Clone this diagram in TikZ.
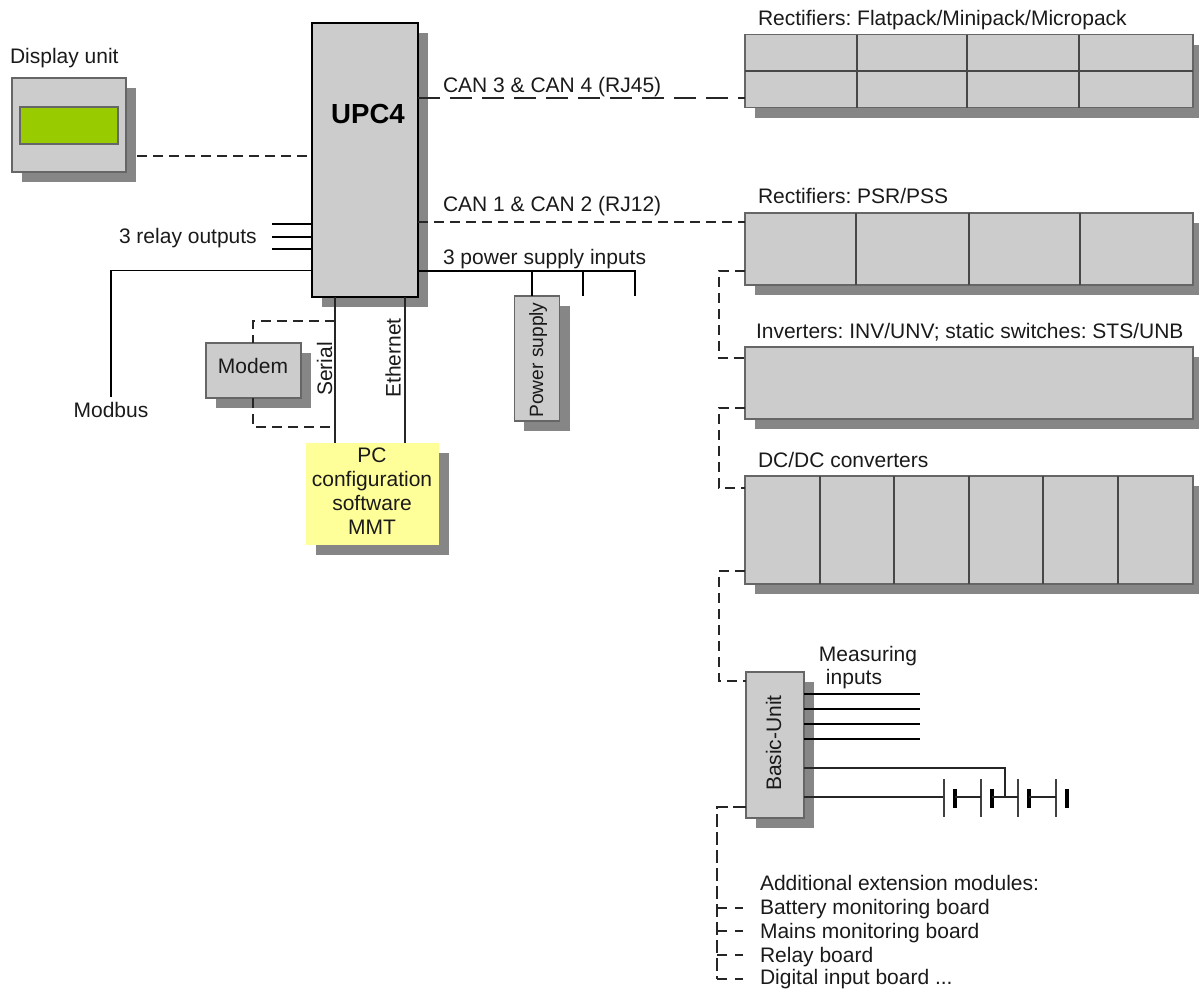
\documentclass[tikz,border=0pt]{standalone}
\usepackage{fontspec}
\setmainfont{Liberation Sans}
\usetikzlibrary{shadows}
\definecolor{boxfill}{HTML}{CCCCCC}
\definecolor{shadowgrey}{HTML}{868686}
\definecolor{boxedge}{HTML}{666666}
\definecolor{lcdgreen}{HTML}{99CC00}
\definecolor{paleyellow}{HTML}{FFFF99}
\definecolor{inkdark}{HTML}{1A1A1A}
\tikzset{
  x=1pt,y=-1pt,
  unitbox/.style={draw=boxedge,line width=1.4pt,fill=boxfill,inner sep=0pt,outer sep=0pt,
    general shadow={shadow xshift=10pt,shadow yshift=-10pt,fill=shadowgrey}},
  mainbox/.style={draw=black,line width=2.6pt,fill=boxfill,inner sep=0pt,outer sep=0pt,
    general shadow={shadow xshift=10pt,shadow yshift=-10pt,fill=shadowgrey}},
  pcbox/.style={fill=paleyellow,inner sep=0pt,outer sep=0pt,
    general shadow={shadow xshift=10pt,shadow yshift=-10pt,fill=shadowgrey}},
  lcd/.style={draw=boxedge,line width=1.2pt,fill=lcdgreen,inner sep=0pt,outer sep=0pt},
  lbl/.style={font=\fontsize{21}{24}\selectfont,text=inkdark,inner sep=0pt,outer sep=0pt,text height=18pt,text depth=4pt},
  lblw/.style={lbl,anchor=west},
  wire/.style={draw=black,line width=1.5pt},
  thinwire/.style={draw=black!85,line width=1.6pt},
  divider/.style={draw=boxedge!70!black,line width=1.3pt},
  dashshort/.style={draw=black!85,line width=1.7pt,dash pattern=on 10pt off 6pt},
  dashlong/.style={draw=black!85,line width=1.7pt,dash pattern=on 22pt off 10pt},
  dashriser/.style={draw=black!85,line width=1.6pt,dash pattern=on 13pt off 5pt},
  dashtick/.style={draw=black!85,line width=1.4pt,dash pattern=on 10pt off 8pt},
  plate/.style={draw=black!75,line width=1.3pt},
  thickplate/.style={draw=black,line width=3.2pt},
}
\begin{document}
\frenchspacing
\begin{tikzpicture}
\useasboundingbox (0,0) rectangle (1199,989);
\clip (0,0) rectangle (1199,989);

% units
\node[unitbox,minimum width=114pt,minimum height=94pt] (disp) at (69,125) {};
\node[lcd,minimum width=98pt,minimum height=37pt] (lcdpanel) at (69,125.5) {};
\node[unitbox,minimum width=448pt,minimum height=73pt] (rone) at (969,71) {};
\node[unitbox,minimum width=448pt,minimum height=72pt] (rtwo) at (969,249) {};
\node[unitbox,minimum width=448pt,minimum height=72pt] (inv) at (969,383) {};
\node[unitbox,minimum width=448pt,minimum height=108pt] (dcdc) at (969,530) {};
\node[unitbox,minimum width=58pt,minimum height=146pt] (basic) at (775,745) {};
\node[unitbox,minimum width=95pt,minimum height=55pt] (modem) at (253.5,370.5) {};
\node[unitbox,minimum width=45pt,minimum height=125pt,general shadow={shadow xshift=9pt,shadow yshift=-10pt,fill=shadowgrey}] (ps) at (537,358.5) {};
\node[pcbox,minimum width=133pt,minimum height=102pt] (pc) at (372,494) {};
\node[mainbox,minimum width=106pt,minimum height=274pt] (upc) at (365,160) {};

% dividers
\draw[divider] (rone.west) -- (rone.east);
\foreach \dx in {857,967,1079}{\draw[divider] (\dx,0 |- rone.north) -- (\dx,0 |- rone.south);}
\foreach \dx in {856,969,1080}{\draw[divider] (\dx,0 |- rtwo.north) -- (\dx,0 |- rtwo.south);}
\foreach \dx in {820,894,969,1043,1118}{\draw[divider] (\dx,0 |- dcdc.north) -- (\dx,0 |- dcdc.south);}

% free ends
\coordinate (dispport) at (137,156);
\coordinate (relayA) at (272,224);
\coordinate (relayB) at (272,237);
\coordinate (relayC) at (272,249);
\coordinate (modbusend) at (111,397);
\coordinate (supplyB) at (583,296);
\coordinate (supplyC) at (635,296);
\coordinate (measA) at (920,694);
\coordinate (measB) at (920,709);
\coordinate (measC) at (920,724);
\coordinate (measD) at (920,739);
\coordinate (cellA) at (944,797);
\coordinate (extA) at (743,908);
\coordinate (extB) at (743,931);
\coordinate (extC) at (743,955);
\coordinate (extD) at (743,979);

% bus connectors
\draw[dashshort] (dispport) -- (upc.west |- dispport);
\draw[dashlong] (upc.east |- 0,98) -- (rone.west |- 0,98);
\draw[dashshort] (upc.east |- 0,222) -- (rtwo.west |- 0,222);
\draw[wire] (upc.west |- relayA) -- (relayA);
\draw[wire] (upc.west |- relayB) -- (relayB);
\draw[wire] (upc.west |- relayC) -- (relayC);
\draw[wire] (upc.west |- 0,270.7) -- (modbusend |- 0,270.7) -- (modbusend);
\draw[wire] (upc.east |- 0,271) -- (supplyC |- 0,271) -- (supplyC);
\draw[wire] (supplyB |- 0,271) -- (supplyB);
\draw[wire] (532,271) -- (532,0 |- ps.north);
\draw[thinwire] (335,0 |- upc.south) -- (335,0 |- pc.north);
\draw[thinwire] (405,0 |- upc.south) -- (405,0 |- pc.north);
\draw[dashshort] (335,321) -- (253,321) -- (253,0 |- modem.north);
\draw[dashshort] (253,0 |- modem.south) -- (253,427) -- (335,427);

% daisy chain
\draw[dashshort] (rtwo.west |- 0,271) -- (719,271) -- (719,358) -- (inv.west |- 0,358);
\draw[dashshort] (inv.west |- 0,408) -- (719,408) -- (719,488) -- (dcdc.west |- 0,488);
\draw[dashshort] (dcdc.west |- 0,571) -- (719,571) -- (719,681) -- (basic.west |- 0,681);
\draw[dashriser] (basic.west |- 0,807) -- (717,807) -- (717,979);
\draw[dashtick] (717,908) -- (extA);
\draw[dashtick] (717,931) -- (extB);
\draw[dashtick] (717,955) -- (extC);
\draw[dashtick] (717,979) -- (extD);

% measuring inputs
\draw[wire] (basic.east |- measA) -- (measA);
\draw[wire] (basic.east |- measB) -- (measB);
\draw[wire] (basic.east |- measC) -- (measC);
\draw[wire] (basic.east |- measD) -- (measD);
\draw[thinwire] (basic.east |- 0,768) -- (1005,768) -- (1005,797);
\draw[thinwire] (basic.east |- cellA) -- (cellA);

% battery
\foreach \px in {944,981,1018,1056}{\draw[plate] (\px,779) -- (\px,817);}
\foreach \px in {955,992,1029,1067}{\draw[thickplate] (\px,789) -- (\px,808);}
\draw[thinwire] (955,797) -- (981,797);
\draw[thinwire] (992,797) -- (1018,797);
\draw[thinwire] (1029,797) -- (1056,797);

% labels
\node[lblw] (tdisp) at (10,56) {Display unit};
\node[font=\fontsize{27.6}{30}\bfseries\selectfont,text=black,inner sep=0pt] (tupc) at (368,114) {UPC4};
\node[lblw] (tcanb) at (443,85.5) {CAN 3 \& CAN 4 (RJ45)};
\node[lblw] (tcana) at (443,204.5) {CAN 1 \& CAN 2 (RJ12)};
\node[lblw] (trelay) at (119,236.5) {3 relay outputs};
\node[lblw] (tsupply) at (443,257) {3 power supply inputs};
\node[lbl] (tmodbus) at (111,410) {Modbus};
\node[lbl] (tmodem) at (253,366) {Modem};
\node[lbl,rotate=90] (tserial) at (325,369) {Serial};
\node[lbl,rotate=90] (teth) at (393.7,358) {Ethernet};
\node[lbl,rotate=90,font=\fontsize{19.2}{24}\selectfont] (tps) at (536,360) {Power supply};
\node[lbl,rotate=90] (tbasic) at (774,743) {Basic-Unit};
\node[lbl] (tpca) at (372,455) {PC};
\node[lbl] (tpcb) at (372,479) {configuration};
\node[lbl] (tpcc) at (372,503) {software};
\node[lbl] (tpcd) at (372,527) {MMT};
\node[lblw] (trone) at (758,18) {Rectifiers: Flatpack/Minipack/Micropack};
\node[lblw] (trtwo) at (758,196.5) {Rectifiers: PSR/PSS};
\node[lblw] (tinv) at (756,331) {Inverters: INV/UNV; static switches: STS/UNB};
\node[lblw] (tdc) at (758,460) {DC/DC converters};
\node[lbl] (tmeasa) at (868,654) {Measuring};
\node[lbl] (tmeasb) at (854,677) {inputs};
\node[lblw] (tadd) at (760,883) {Additional extension modules:};
\node[lblw] (text1) at (760,907.5) {Battery monitoring board};
\node[lblw] (text2) at (760,931) {Mains monitoring board};
\node[lblw] (text3) at (760,955) {Relay board};
\node[lblw] (text4) at (760,977.5) {Digital input board ...};
\end{tikzpicture}
\end{document}
